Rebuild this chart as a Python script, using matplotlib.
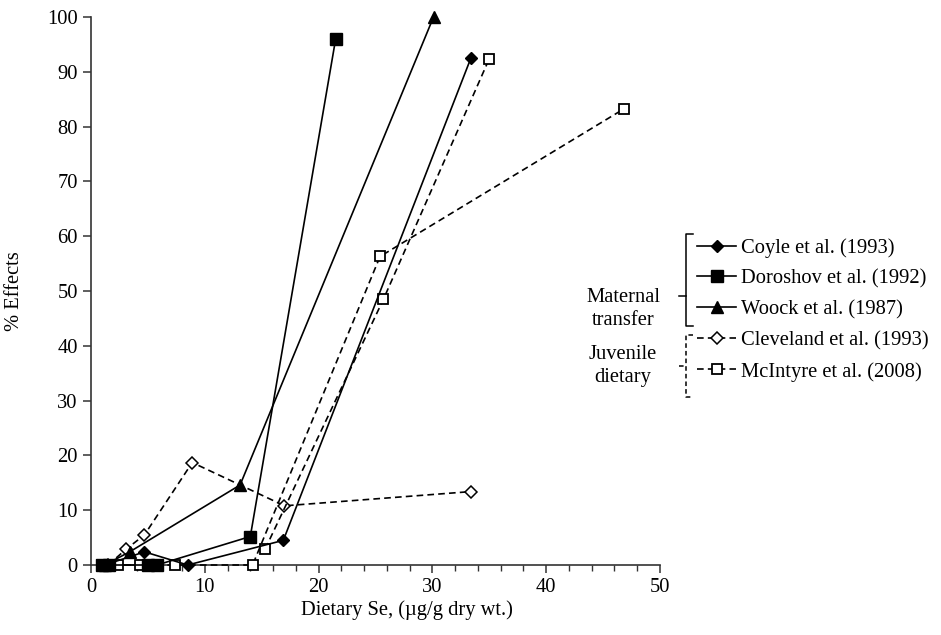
import matplotlib
matplotlib.use("Agg")
import matplotlib.pyplot as plt
from matplotlib.lines import Line2D
from matplotlib.ticker import MultipleLocator

plt.rcParams['font.family'] = ['Liberation Serif', 'DejaVu Serif']

# data (Dietary Se ug/g dry wt, % effects)
coyle_x = [1.2, 4.7, 8.5, 16.9, 33.4]
coyle_y = [0, 2.4, 0, 4.5, 92.6]

doroshov_x = [1.0, 1.6, 5.0, 5.8, 14.0, 21.5]
doroshov_y = [0, 0, 0, 0, 5.2, 96.0]

woock_x = [1.2, 3.4, 13.1, 30.1]
woock_y = [0, 2.4, 14.6, 100.0]

cleveland_x = [1.5, 3.1, 4.7, 8.9, 17.0, 33.4]
cleveland_y = [0, 2.9, 5.5, 18.7, 10.8, 13.4]

# McIntyre plotted as two connected runs
mcintyre_a_x = [1.0, 2.4, 4.3, 7.4, 14.2, 25.4, 46.8]
mcintyre_a_y = [0, 0, 0, 0, 0, 56.3, 83.2]
mcintyre_b_x = [15.3, 25.7, 35.0]
mcintyre_b_y = [2.9, 48.5, 92.4]

labels = ["Coyle et al. (1993)", "Doroshov et al. (1992)", "Woock et al. (1987)",
          "Cleveland et al. (1993)", "McIntyre et al. (2008)"]

fs = 14.8

fig = plt.figure(figsize=(9.41, 6.35), dpi=100)
ax = fig.add_axes([91/941, 1-565/635, (660-91)/941, (565-17)/635])

lw = 1.2
dash = (4, 2.5)
h1, = ax.plot(coyle_x, coyle_y, color='black', lw=lw, marker='D', ms=6, clip_on=False, zorder=4)
h2, = ax.plot(doroshov_x, doroshov_y, color='black', lw=lw, marker='s', ms=8, clip_on=False, zorder=4)
h3, = ax.plot(woock_x, woock_y, color='black', lw=lw, marker='^', ms=8.5, clip_on=False, zorder=4)
h4, = ax.plot(cleveland_x, cleveland_y, color='black', lw=lw, ls=(0, dash), marker='D', ms=6,
              mfc='white', mew=1.1, clip_on=False, zorder=3)
h5, = ax.plot(mcintyre_a_x, mcintyre_a_y, color='black', lw=lw, ls=(0, dash), marker='s', ms=7.5,
              mfc='white', mew=1.3, clip_on=False, zorder=3)
ax.plot(mcintyre_b_x, mcintyre_b_y, color='black', lw=lw, ls=(0, dash), marker='s', ms=7.5,
        mfc='white', mew=1.3, clip_on=False, zorder=3)

ax.set_xlim(0, 50)
ax.set_ylim(0, 100)
ax.xaxis.set_major_locator(MultipleLocator(10))
ax.xaxis.set_minor_locator(MultipleLocator(2))
ax.yaxis.set_major_locator(MultipleLocator(10))
for s in ['top', 'right']:
    ax.spines[s].set_visible(False)
for s in ['left', 'bottom']:
    ax.spines[s].set_linewidth(1.2)
    ax.spines[s].set_color('#333333')
ax.tick_params(axis='both', which='major', direction='out', length=6, width=1.1,
               labelsize=fs, color='#333333')
ax.tick_params(axis='x', which='minor', direction='out', length=4, width=1.0, color='#333333')

ax.set_xlabel("Dietary Se, (\u00b5g/g dry wt.)", fontsize=fs)
ax.xaxis.set_label_coords((407-91)/569, -0.065)
ax.set_ylabel("% Effects", fontsize=fs)
ax.yaxis.set_label_coords(-0.118, 0.5)

leg = ax.legend([h1, h2, h3, h4, h5], labels, loc='upper left',
                bbox_to_anchor=(697/941, 1-238/635), bbox_transform=fig.transFigure,
                frameon=False, fontsize=fs, handlelength=1.9, handletextpad=0.25,
                labelspacing=0.56, borderpad=0, borderaxespad=0)

# group brackets
def bracket(y0, y1, ymid, ls):
    x, xr, xl = 686/941, 693/941, 679/941
    Y = lambda p: 1 - p/635
    for xs, ys in [([xr, x, x, xr], [Y(y0), Y(y0), Y(y1), Y(y1)]),
                   ([xl, x], [Y(ymid), Y(ymid)])]:
        fig.add_artist(Line2D(xs, ys, color='black', lw=1.1, ls=ls))

bracket(234, 326, 296, '-')
bracket(335, 397, 366, (0, (3, 2)))
fig.text(623/941, 1-309/635, "Maternal\ntransfer", ha='center', va='center', fontsize=fs,
         linespacing=1.25)
fig.text(623/941, 1-366/635, "Juvenile\ndietary", ha='center', va='center', fontsize=fs,
         linespacing=1.25)

fig.savefig("out.png", dpi=100)
